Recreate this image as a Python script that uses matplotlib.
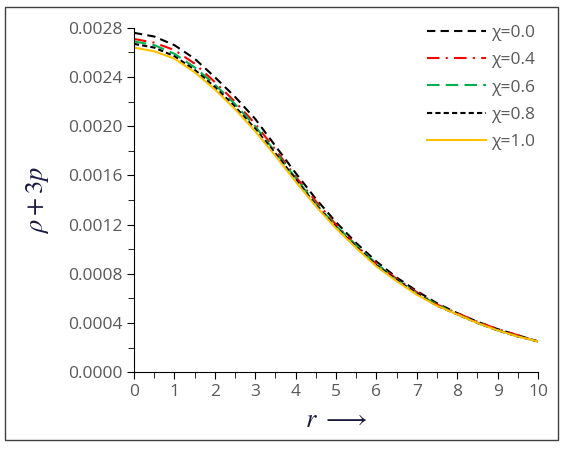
import numpy as np
import matplotlib.pyplot as plt
from matplotlib.patches import Rectangle
from matplotlib.ticker import MultipleLocator, FormatStrFormatter

r = np.arange(0, 10.5, 0.5)

chi_00 = [0.00276, 0.00273, 0.00266, 0.00255, 0.00240, 0.00224, 0.00206, 0.00184, 0.00162, 0.00141, 0.00122,
          0.00105, 0.00090, 0.00077, 0.00066, 0.00056, 0.00048, 0.00041, 0.00035, 0.00030, 0.00025]
chi_04 = [0.00271, 0.00268, 0.00262, 0.00251, 0.00236, 0.00220, 0.00202, 0.00181, 0.00159, 0.00139, 0.00120,
          0.00103, 0.00088, 0.00076, 0.00065, 0.00055, 0.00048, 0.00041, 0.00035, 0.00030, 0.00025]
chi_06 = [0.00269, 0.00266, 0.00259, 0.00248, 0.00234, 0.00218, 0.00200, 0.00179, 0.00158, 0.00137, 0.00119,
          0.00103, 0.00088, 0.00075, 0.00064, 0.00055, 0.00047, 0.00040, 0.00034, 0.00029, 0.00025]
chi_08 = [0.00267, 0.00264, 0.00257, 0.00246, 0.00232, 0.00216, 0.00198, 0.00178, 0.00157, 0.00136, 0.00118,
          0.00102, 0.00087, 0.00075, 0.00064, 0.00054, 0.00047, 0.00040, 0.00034, 0.00029, 0.00025]
chi_10 = [0.00264, 0.00261, 0.00255, 0.00244, 0.00230, 0.00214, 0.00196, 0.00176, 0.00155, 0.00135, 0.00117,
          0.00101, 0.00086, 0.00074, 0.00063, 0.00054, 0.00047, 0.00040, 0.00034, 0.00029, 0.00025]

labels = ["χ=0.0", "χ=0.4", "χ=0.6", "χ=0.8", "χ=1.0"]

plt.rcParams['font.family'] = ['Open Sans', 'DejaVu Sans']
plt.rcParams['mathtext.fontset'] = 'stix'

fig = plt.figure(figsize=(5.7, 4.5), dpi=100)
ax = fig.add_axes([0.235, 0.173, 0.709, 0.765])

# outer frame around the whole chart
fig.patches.append(Rectangle((0.009, 0.022), 0.970, 0.962, transform=fig.transFigure,
                             fill=False, edgecolor='#404040', linewidth=1.0))

ax.plot(r, chi_00, color='black', linestyle=(0, (4, 2.5)), linewidth=1.5, label=labels[0])
ax.plot(r, chi_04, color='red', linestyle=(0, (6, 3, 1, 3)), linewidth=1.5, label=labels[1])
ax.plot(r, chi_06, color='#00b050', linestyle=(0, (6, 3)), linewidth=1.5, label=labels[2])
ax.plot(r, chi_08, color='black', linestyle=(0, (2.5, 1.5)), linewidth=1.5, label=labels[3])
ax.plot(r, chi_10, color='#ffc000', linestyle='-', linewidth=1.5, label=labels[4])

ax.set_xlim(0, 10)
ax.set_ylim(0, 0.0028)
ax.xaxis.set_major_locator(MultipleLocator(1))
ax.xaxis.set_minor_locator(MultipleLocator(0.5))
ax.yaxis.set_major_locator(MultipleLocator(0.0004))
ax.yaxis.set_minor_locator(MultipleLocator(0.0002))
ax.yaxis.set_major_formatter(FormatStrFormatter('%.4f'))

ax.spines['top'].set_visible(False)
ax.spines['right'].set_visible(False)
ax.tick_params(which='both', direction='out', color='black', labelcolor='#595959', labelsize=12.5)
ax.tick_params(which='major', length=5)
ax.tick_params(which='minor', length=4)

ax.set_xlabel(r'$\mathbf{\mathit{r}}\ \longrightarrow$', fontsize=19, color='#1a1a40', labelpad=6)
ax.set_ylabel(r'$\rho + 3p$', fontsize=19, color='#1a1a40', labelpad=12)

leg = ax.legend(loc='upper right', frameon=False, fontsize=12.5, handlelength=3.4,
                labelspacing=0.65, borderaxespad=0.0, handletextpad=0.3, bbox_to_anchor=(1.01, 1.03))
for t in leg.get_texts():
    t.set_color('#595959')

fig.savefig('out.png', dpi=100)
